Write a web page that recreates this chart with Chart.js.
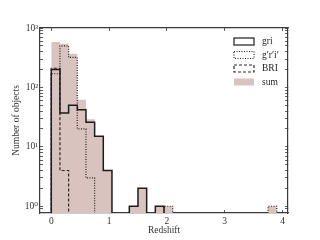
<!DOCTYPE html>
<html>
<head>
<meta charset="utf-8">
<script src="https://cdn.jsdelivr.net/npm/chart.js@4"></script>
<style>
  body { margin: 0; background: #fff; }
  canvas { display: block; }
</style>
</head>
<body>
<canvas id="chart" width="320" height="240"></canvas>
<script>
// histogram bins of width 0.15 in redshift, starting at z = 0 (26 bins)
const binStart = 0;
const binWidth = 0.15;
const gri    = [200, 37, 50, 42, 26, 15, 4, 0, 0, 1, 2, 0, 1, 0, 0, 0, 0, 0, 0, 0, 0, 0, 0, 0, 0, 0];
const gpRpIp = [170, 500, 320, 20, 3, 0, 0, 0, 0, 0, 0, 0, 0, 1, 0, 0, 0, 0, 0, 0, 0, 0, 0, 0, 0, 1];
const bri    = [210, 4, 0, 0, 0, 0, 0, 0, 0, 0, 0, 0, 0, 0, 0, 0, 0, 0, 0, 0, 0, 0, 0, 0, 0, 0];
const sum    = [580, 541, 370, 62, 29, 15, 4, 0, 0, 1, 2, 0, 1, 1, 0, 0, 0, 0, 0, 0, 0, 0, 0, 0, 0, 1];

const xTicks = [0, 1, 2, 3, 4];
const yDecades = [1, 10, 100, 1000];
const yLabels = ['10⁰', '10¹', '10²', '10³'];

const X_MIN = -0.195, X_MAX = 4.095;
const Y_MIN = 0.77, Y_MAX = 1000;
const FLOOR = 0.1; // empty bins drop below the axis (clipped)

const serif = "'Liberation Serif', 'DejaVu Serif', serif";
const ink = '#333';
const fontSize = 9.5;

// outline of a step histogram as {x, y} points
function stepPoints(counts) {
  const pts = [{ x: binStart, y: FLOOR }];
  counts.forEach((c, i) => {
    pts.push({ x: binStart + i * binWidth, y: c > 0 ? c : FLOOR });
  });
  pts.push({ x: binStart + counts.length * binWidth, y: FLOOR });
  return pts;
}

// log-axis ticks: every 1..9 of each decade
function logTicks() {
  const out = [];
  [0.1, 1, 10, 100].forEach(d => {
    for (let k = 1; k <= 9; k++) {
      const v = k === 1 ? d : k * d;
      if (v >= Y_MIN && v <= Y_MAX) out.push({ value: v });
    }
  });
  out.push({ value: 1000 });
  return out;
}

// matplotlib-style legend inside the upper right corner
const boxLegend = {
  id: 'boxLegend',
  afterDraw(chart) {
    const { ctx, chartArea } = chart;
    const x0 = chartArea.right - 54;
    ctx.save();
    ctx.font = fontSize + 'px ' + serif;
    ctx.textBaseline = 'middle';
    chart.data.datasets.forEach((ds, i) => {
      const y = chartArea.top + 13.5 + i * 13.5;
      ctx.fillStyle = ds.legendFill;
      ctx.fillRect(x0, y - 3.5, 20, 7);
      if (ds.legendStroke) {
        ctx.setLineDash(ds.borderDash || []);
        ctx.lineWidth = Math.min(ds.borderWidth, 1.2);
        ctx.strokeStyle = ds.borderColor;
        ctx.strokeRect(x0, y - 3.5, 20, 7);
        ctx.setLineDash([]);
      }
      ctx.fillStyle = '#222';
      ctx.fillText(ds.label, x0 + 28, y);
    });
    ctx.restore();
  }
};

function gridOpts() {
  return {
    display: true,
    drawOnChartArea: false,
    drawTicks: true,
    tickLength: -3,
    color: ink,
    lineWidth: 0.8
  };
}

const border = { color: '#3a3a3a', width: 1.2 };

new Chart(document.getElementById('chart'), {
  type: 'line',
  data: {
    datasets: [
      {
        label: 'gri',
        data: stepPoints(gri),
        stepped: 'before',
        borderColor: '#1c1c1c',
        borderWidth: 1.5,
        pointRadius: 0,
        fill: false,
        legendFill: '#fff',
        legendStroke: true
      },
      {
        label: 'g′r′i′',
        data: stepPoints(gpRpIp),
        stepped: 'before',
        borderColor: '#222',
        borderWidth: 1.2,
        borderDash: [1, 1.5],
        pointRadius: 0,
        fill: false,
        legendFill: '#fff',
        legendStroke: true
      },
      {
        label: 'BRI',
        data: stepPoints(bri),
        stepped: 'before',
        borderColor: '#2a2a2a',
        borderWidth: 1.2,
        borderDash: [3, 2],
        pointRadius: 0,
        fill: false,
        legendFill: '#fff',
        legendStroke: true
      },
      {
        label: 'sum',
        data: stepPoints(sum),
        stepped: 'before',
        borderColor: 'transparent',
        borderWidth: 0,
        backgroundColor: '#d9c3be',
        pointRadius: 0,
        fill: 'start',
        legendFill: '#d9c3be',
        legendStroke: false
      }
    ]
  },
  options: {
    responsive: false,
    animation: false,
    layout: { padding: 0 },
    plugins: {
      legend: { display: false },
      tooltip: { enabled: false }
    },
    scales: {
      x: {
        type: 'linear',
        position: 'bottom',
        min: X_MIN,
        max: X_MAX,
        afterBuildTicks: s => { s.ticks = xTicks.map(v => ({ value: v })); },
        afterFit: s => { s.height = 27; },
        ticks: {
          font: { family: serif, size: fontSize },
          color: ink,
          padding: 6,
          maxRotation: 0,
          autoSkip: false
        },
        grid: gridOpts(),
        border: border,
        title: {
          display: true,
          text: 'Redshift',
          font: { family: serif, size: fontSize },
          color: ink,
          padding: { top: 0, bottom: 4 }
        }
      },
      x2: {
        type: 'linear',
        position: 'top',
        min: X_MIN,
        max: X_MAX,
        afterBuildTicks: s => { s.ticks = xTicks.map(v => ({ value: v })); },
        afterFit: s => { s.height = 28; },
        ticks: { display: false },
        grid: gridOpts(),
        border: border
      },
      y: {
        type: 'logarithmic',
        position: 'left',
        min: Y_MIN,
        max: Y_MAX,
        afterBuildTicks: s => { s.ticks = logTicks(); },
        afterFit: s => { s.width = 40; },
        ticks: {
          font: { family: serif, size: fontSize },
          color: ink,
          padding: 5,
          autoSkip: false,
          callback: v => {
            const i = yDecades.indexOf(v);
            return i >= 0 ? yLabels[i] : '';
          }
        },
        grid: gridOpts(),
        border: border,
        title: {
          display: true,
          text: 'Number of objects',
          font: { family: serif, size: fontSize },
          color: ink,
          padding: { top: 11, bottom: 0 }
        }
      },
      y2: {
        type: 'logarithmic',
        position: 'right',
        min: Y_MIN,
        max: Y_MAX,
        afterBuildTicks: s => { s.ticks = logTicks(); },
        afterFit: s => { s.width = 32; },
        ticks: { display: false },
        grid: gridOpts(),
        border: border
      }
    }
  },
  plugins: [boxLegend]
});
</script>
</body>
</html>
